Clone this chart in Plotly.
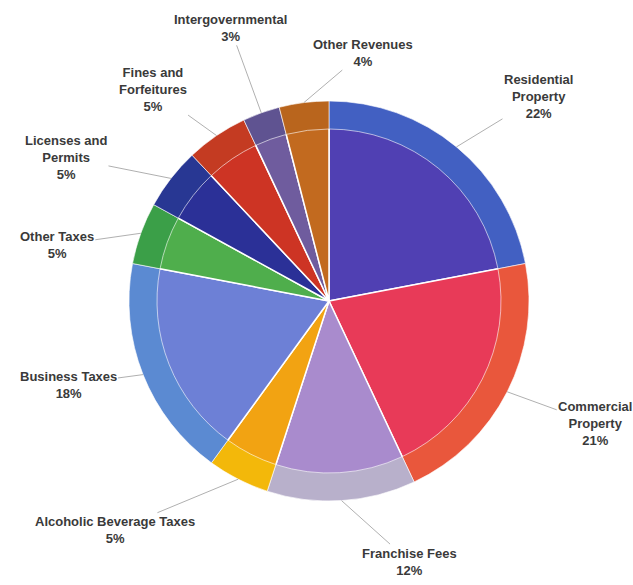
import math
import plotly.graph_objects as go

categories = ["Residential<br>Property", "Commercial<br>Property", "Franchise Fees",
              "Alcoholic Beverage Taxes", "Business Taxes", "Other Taxes",
              "Licenses and<br>Permits", "Fines and<br>Forfeitures",
              "Intergovernmental", "Other Revenues"]
values = [22, 21, 12, 5, 18, 5, 5, 5, 3, 4]

inner_colors = ["#5040b3", "#e83a58", "#a98bcd", "#f2a312", "#6d80d6",
                "#4fae4c", "#2b3097", "#cd3424", "#6f5c9e", "#c26a1f"]
ring_colors = ["#4260c2", "#e9573c", "#b8b0cb", "#f3b80a", "#5b8ad2",
               "#3b9f48", "#283793", "#c43b22", "#5f5391", "#b9651d"]

# label text offsets from the leader-line anchor (pixels)
label_dx = [82, 88, 68, -123, -75, -84, -105, -64, -31, 59]
label_dy = [-50, 32, 61, 51, 10, 12, -21, -46, -85, -50]

W, H = 633, 585
cx, cy, r = 329, 301, 200
dom_x = [(cx - r) / W, (cx + r) / W]
dom_y = [1 - (cy + r) / H, 1 - (cy - r) / H]

fig = go.Figure()
fig.add_trace(go.Pie(
    labels=categories, values=values, sort=False, direction="clockwise",
    rotation=0, textinfo="none", hoverinfo="skip", showlegend=False,
    marker=dict(colors=inner_colors, line=dict(color="white", width=1.5)),
    domain=dict(x=dom_x, y=dom_y)))
fig.add_trace(go.Pie(
    labels=categories, values=values, sort=False, direction="clockwise",
    rotation=0, textinfo="none", hoverinfo="skip", showlegend=False, hole=0.86,
    marker=dict(colors=ring_colors, line=dict(color="rgba(255,255,255,0.6)", width=1)),
    domain=dict(x=dom_x, y=dom_y)))

total = sum(values)
cum = 0
annotations = []
for lab, v, dx, dy in zip(categories, values, label_dx, label_dy):
    mid = (cum + v / 2) / total * 2 * math.pi
    cum += v
    px = cx + r * math.sin(mid)
    py = cy - r * math.cos(mid)
    pct = round(v / total * 100)
    annotations.append(dict(
        x=px / W, y=1 - py / H, xref="paper", yref="paper",
        ax=dx, ay=dy, axref="pixel", ayref="pixel",
        text="<b>%s<br>%d%%</b>" % (lab, pct), showarrow=True,
        arrowhead=0, arrowwidth=1, arrowcolor="#b0b0b0", standoff=0,
        font=dict(family="Liberation Sans, Arial, sans-serif", size=13, color="#3a3a3a"),
        align="center"))

fig.update_layout(
    width=W, height=H, margin=dict(l=0, r=0, t=0, b=0),
    paper_bgcolor="white", plot_bgcolor="white",
    annotations=annotations)

fig.write_html("out.html")
